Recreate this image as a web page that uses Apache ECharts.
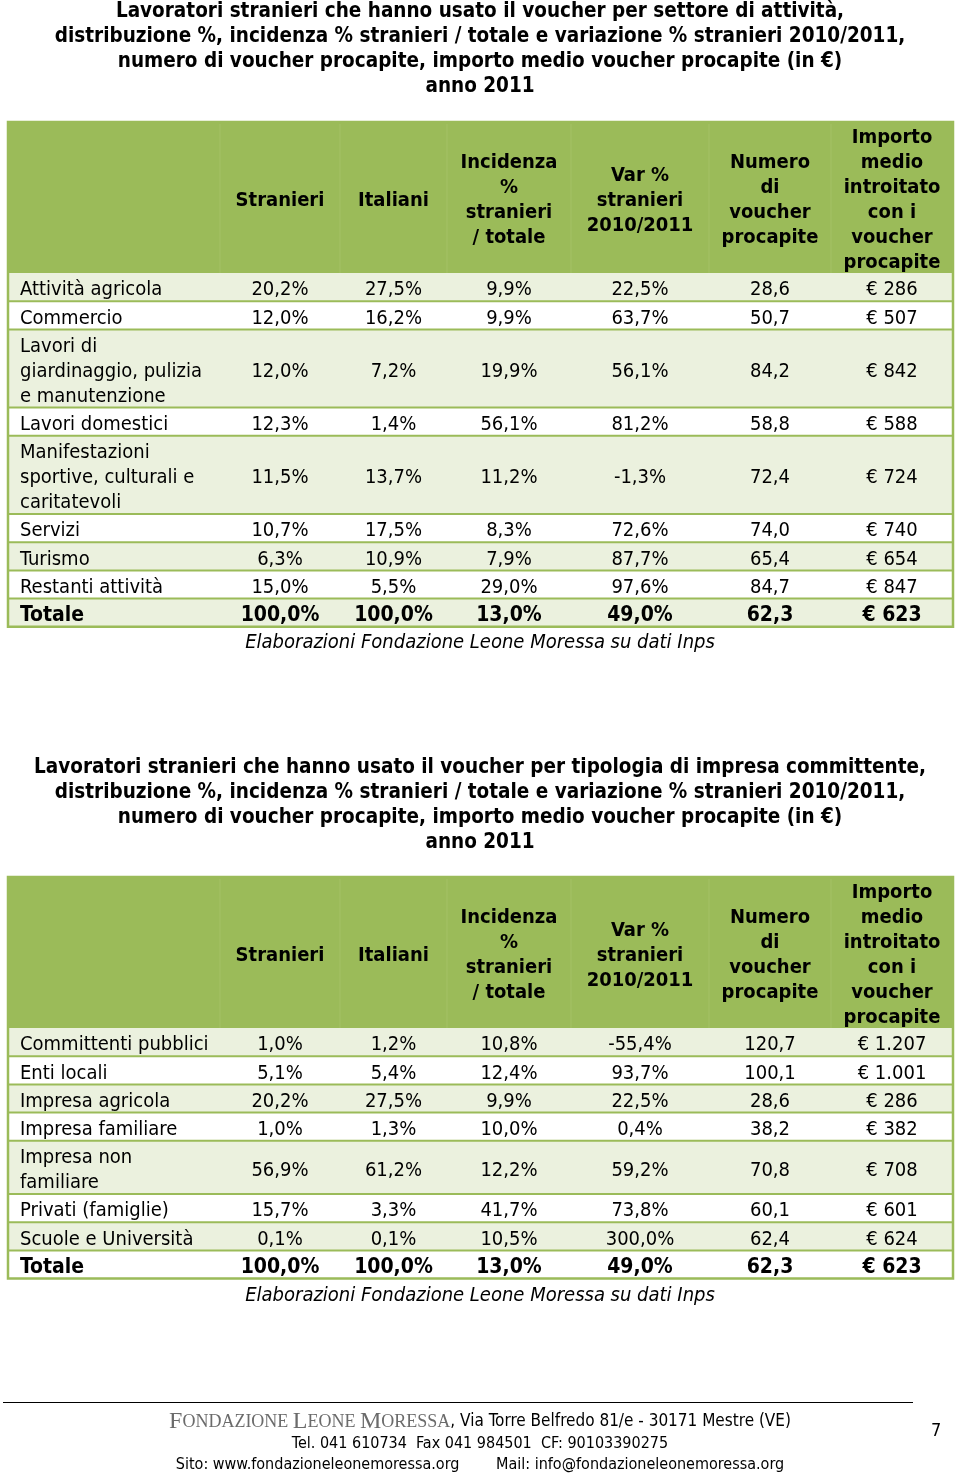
<!DOCTYPE html>
<html><head><meta charset="utf-8">
<script src="https://cdn.jsdelivr.net/npm/echarts@6/dist/echarts.min.js"></script>
<style>html,body{margin:0;padding:0;background:#fff}#c{width:960px;height:1478px}</style>
</head><body><div id="c"></div>
<script>
// ---------- DATA ----------
const title1 = 'Lavoratori stranieri che hanno usato il voucher per settore di attività,\ndistribuzione %, incidenza % stranieri / totale e variazione % stranieri 2010/2011,\nnumero di voucher procapite, importo medio voucher procapite (in €)\nanno 2011';
const title2 = 'Lavoratori stranieri che hanno usato il voucher per tipologia di impresa committente,\ndistribuzione %, incidenza % stranieri / totale e variazione % stranieri 2010/2011,\nnumero di voucher procapite, importo medio voucher procapite (in €)\nanno 2011';
const sourceNote = 'Elaborazioni Fondazione Leone Moressa su dati Inps';
const headers = ['', 'Stranieri', 'Italiani', 'Incidenza\n%\nstranieri\n/ totale', 'Var %\nstranieri\n2010/2011', 'Numero\ndi\nvoucher\nprocapite', 'Importo\nmedio\nintroitato\ncon i\nvoucher\nprocapite'];

const sectors1 = ['Attività agricola', 'Commercio', 'Lavori di\ngiardinaggio, pulizia\ne manutenzione', 'Lavori domestici', 'Manifestazioni\nsportive, culturali e\ncaritatevoli', 'Servizi', 'Turismo', 'Restanti attività', 'Totale'];
const stranieri1 = [20.2, 12.0, 12.0, 12.3, 11.5, 10.7, 6.3, 15.0, 100.0];
const italiani1 = [27.5, 16.2, 7.2, 1.4, 13.7, 17.5, 10.9, 5.5, 100.0];
const incidenza1 = [9.9, 9.9, 19.9, 56.1, 11.2, 8.3, 7.9, 29.0, 13.0];
const variazione1 = [22.5, 63.7, 56.1, 81.2, -1.3, 72.6, 87.7, 97.6, 49.0];
const numero1 = [28.6, 50.7, 84.2, 58.8, 72.4, 74.0, 65.4, 84.7, 62.3];
const importo1 = [286, 507, 842, 588, 724, 740, 654, 847, 623];

const tipologie2 = ['Committenti pubblici', 'Enti locali', 'Impresa agricola', 'Impresa familiare', 'Impresa non\nfamiliare', 'Privati (famiglie)', 'Scuole e Università', 'Totale'];
const stranieri2 = [1.0, 5.1, 20.2, 1.0, 56.9, 15.7, 0.1, 100.0];
const italiani2 = [1.2, 5.4, 27.5, 1.3, 61.2, 3.3, 0.1, 100.0];
const incidenza2 = [10.8, 12.4, 9.9, 10.0, 12.2, 41.7, 10.5, 13.0];
const variazione2 = [-55.4, 93.7, 22.5, 0.4, 59.2, 73.8, 300.0, 49.0];
const numero2 = [120.7, 100.1, 28.6, 38.2, 70.8, 60.1, 62.4, 62.3];
const importo2 = [1207, 1001, 286, 382, 708, 601, 624, 623];

const footer1 = 'Via Torre Belfredo 81/e - 30171 Mestre (VE)';
const footer2 = 'Tel. 041 610734  Fax 041 984501  CF: 90103390275';
const footer3 = 'Sito: www.fondazioneleonemoressa.org        Mail: info@fondazioneleonemoressa.org';
const pageNumber = '7';

// ---------- STYLE / LAYOUT ----------
const FONT = "'DejaVu Sans Condensed', 'DejaVu Sans', sans-serif";
const NARROW = "'Liberation Sans Narrow', 'DejaVu Sans Condensed', sans-serif";
const GREEN = '#9BBB59', LIGHT = '#EBF1DE';
const LINE_H = 25, ROW_PAD = 3.2, HEAD_PAD = 1;
const TABLE_LEFT = 8, TABLE_W = 945;
const COL_EDGES = [0, 212, 332, 439, 563, 701, 823, 945];
const FS = 20;

const pct = v => v.toFixed(1).replace('.', ',') + '%';
const dec = v => v.toFixed(1).replace('.', ',');
const eur = v => '€ ' + String(v).replace(/\B(?=(\d{3})+(?!\d))/g, '.');

function buildTable(cats, cols) {
  const rows = [{ cells: headers, header: true, lines: 6 }];
  cats.forEach((c, i) => {
    rows.push({
      cells: [c, pct(cols[0][i]), pct(cols[1][i]), pct(cols[2][i]), pct(cols[3][i]), dec(cols[4][i]), eur(cols[5][i])],
      lines: c.split('\n').length,
      bold: c === 'Totale',
      fill: (i % 2 === 0) ? LIGHT : '#ffffff'
    });
  });
  const tops = []; let y = 0;
  rows.forEach(r => { tops.push(y); r.h = r.lines * LINE_H + (r.header ? HEAD_PAD : ROW_PAD); y += r.h; });
  return { rows, tops, height: y };
}

const t1 = buildTable(sectors1, [stranieri1, italiani1, incidenza1, variazione1, numero1, importo1]);
const t2 = buildTable(tipologie2, [stranieri2, italiani2, incidenza2, variazione2, numero2, importo2]);

function makeRender(t) {
  return function (params, api) {
    const idx = api.value(1);
    if (idx === t.rows.length) {
      const a = api.coord([0, 0]), b = api.coord([TABLE_W, t.height]);
      return { type: 'rect', shape: { x: a[0], y: a[1], width: b[0] - a[0], height: b[1] - a[1] },
        style: { fill: 'none', stroke: GREEN, lineWidth: 2.5 } };
    }
    const r = t.rows[idx];
    const top = t.tops[idx], bot = top + r.h;
    const p0 = api.coord([0, top]), p1 = api.coord([TABLE_W, bot]);
    const children = [{ type: 'rect', shape: { x: p0[0], y: p0[1], width: p1[0] - p0[0], height: p1[1] - p0[1] },
      style: { fill: r.header ? GREEN : r.fill } }];
    const midY = (p0[1] + p1[1]) / 2;
    if (r.header) {
      for (let c = 1; c < COL_EDGES.length - 1; c++) {
        const xx = api.coord([COL_EDGES[c], 0])[0];
        children.push({ type: 'line', shape: { x1: xx, y1: p0[1] + 2, x2: xx, y2: p1[1] }, style: { stroke: '#A4C166', lineWidth: 1 } });
      }
    } else if (idx > 1) {
      children.push({ type: 'line', shape: { x1: p0[0], y1: p0[1], x2: p1[0], y2: p0[1] }, style: { stroke: GREEN, lineWidth: 2 } });
    }
    r.cells.forEach((txt, c) => {
      if (!txt) return;
      const xl = api.coord([COL_EDGES[c], 0])[0], xr = api.coord([COL_EDGES[c + 1], 0])[0];
      const left = c === 0;
      const bold = r.header || r.bold;
      children.push({ type: 'text', style: {
        text: txt, x: left ? xl + 12 : (xl + xr) / 2, y: midY + 3,
        align: left ? 'left' : 'center', verticalAlign: 'middle',
        textAlign: left ? 'left' : 'center', textVerticalAlign: 'middle',
        fontFamily: FONT, fontSize: (r.bold ? 21 : FS), fontWeight: bold ? 'bold' : 'normal',
        lineHeight: LINE_H, fill: '#000'
      } });
    });
    return { type: 'group', children };
  };
}

const T1_TOP = 122, T2_TOP = 877;
const chart = echarts.init(document.getElementById('c'), null, { renderer: 'canvas' });
const axisX = i => ({ type: 'value', gridIndex: i, min: 0, max: TABLE_W, show: false });
const axisY = (i, t) => ({ type: 'value', gridIndex: i, min: 0, max: t.height, inverse: true, show: false });
const dataFor = t => t.rows.map((r, i) => [0, i]).concat([[0, t.rows.length]]);

chart.setOption({
  animation: false,
  grid: [
    { left: TABLE_LEFT, top: T1_TOP, width: TABLE_W, height: t1.height },
    { left: TABLE_LEFT, top: T2_TOP, width: TABLE_W, height: t2.height }
  ],
  xAxis: [axisX(0), axisX(1)],
  yAxis: [axisY(0, t1), axisY(1, t2)],
  series: [
    { type: 'custom', xAxisIndex: 0, yAxisIndex: 0, data: dataFor(t1), renderItem: makeRender(t1), silent: true, clip: false },
    { type: 'custom', xAxisIndex: 1, yAxisIndex: 1, data: dataFor(t2), renderItem: makeRender(t2), silent: true, clip: false }
  ],
  graphic: [
    { type: 'text', left: 'center', top: -1, style: { text: title1, textAlign: 'center', font: 'bold 20.5px ' + FONT, lineHeight: 25, fill: '#000' } },
    { type: 'text', left: 'center', top: 755, style: { text: title2, textAlign: 'center', font: 'bold 20.5px ' + FONT, lineHeight: 25, fill: '#000' } },
    { type: 'text', left: 'center', top: 630, style: { text: sourceNote, font: 'italic 20px ' + FONT, lineHeight: 25, fill: '#000' } },
    { type: 'text', left: 'center', top: 1283, style: { text: sourceNote, font: 'italic 20px ' + FONT, lineHeight: 25, fill: '#000' } },
    { type: 'line', shape: { x1: 3, y1: 1402.5, x2: 913, y2: 1402.5 }, style: { stroke: '#000', lineWidth: 1 } },
    { type: 'text', left: 'center', top: 1410, style: {
      text: '{b|F}{s|ONDAZIONE }{b|L}{s|EONE }{b|M}{s|ORESSA}{n|, ' + footer1 + '}',
      rich: {
        b: { fontFamily: "'Liberation Serif', serif", fontSize: 24, fill: '#6b6b6b' },
        s: { fontFamily: "'Liberation Serif', serif", fontSize: 18, fill: '#6b6b6b' },
        n: { fontFamily: NARROW, fontSize: 17, fill: '#000' }
      } } },
    { type: 'text', left: 'center', top: 1436, style: { text: footer2, font: '16px ' + NARROW, fill: '#000' } },
    { type: 'text', left: 'center', top: 1457, style: { text: footer3, font: '16px ' + NARROW, fill: '#000' } },
    { type: 'text', left: 931, top: 1422, style: { text: pageNumber, font: '18px ' + NARROW, fill: '#000' } }
  ]
});
</script></body></html>
